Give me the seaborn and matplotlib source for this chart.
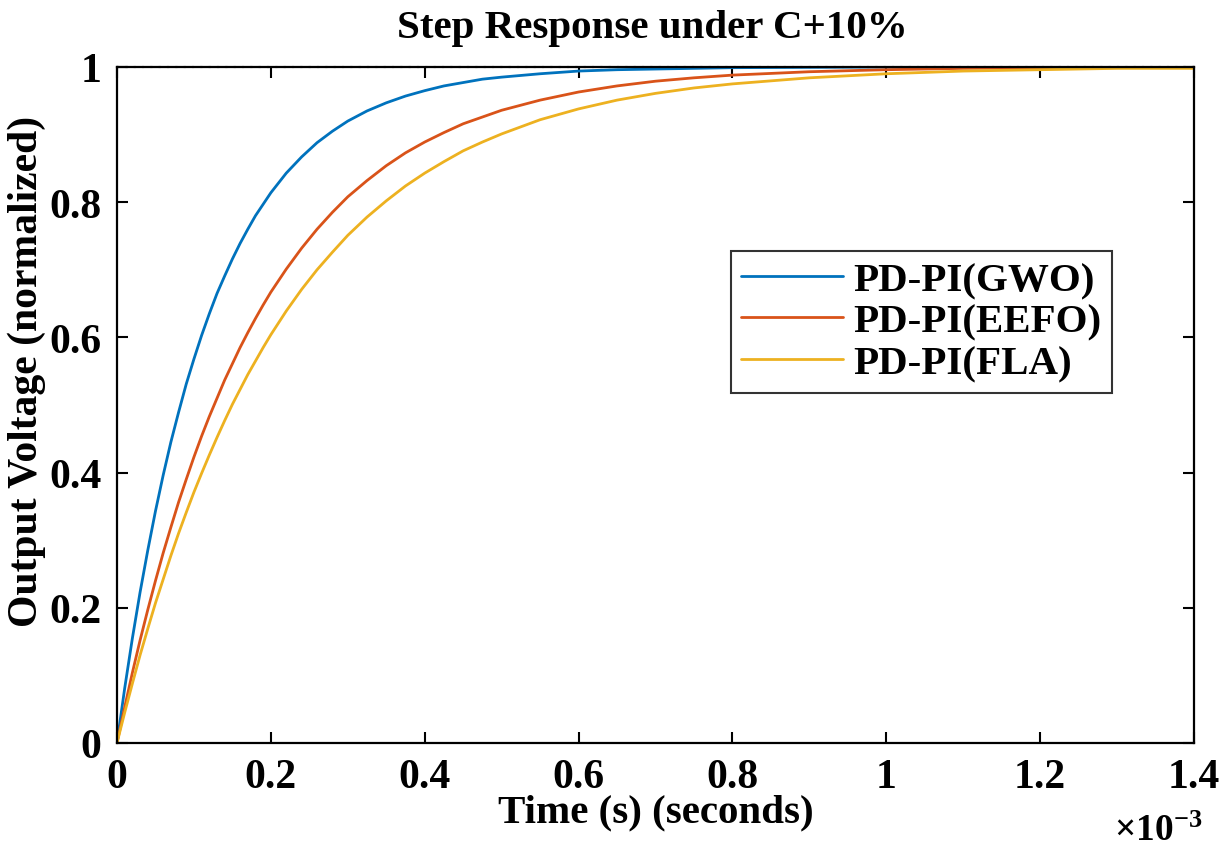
import numpy as np
import pandas as pd
import matplotlib
matplotlib.use("Agg")
import matplotlib.pyplot as plt
import seaborn as sns

# time axis (units of 1e-3 s)
time_ms = [0, 0.01, 0.02, 0.03, 0.04, 0.05, 0.06, 0.07, 0.08, 0.09, 0.10,
           0.11, 0.12, 0.13, 0.14, 0.15, 0.16, 0.17, 0.18, 0.19, 0.20,
           0.22, 0.24, 0.26, 0.28, 0.30, 0.325, 0.35, 0.375, 0.40, 0.425,
           0.45, 0.475, 0.50, 0.55, 0.60, 0.65, 0.70, 0.75, 0.80, 0.90,
           1.00, 1.10, 1.20, 1.30, 1.40]

gwo = [0, 0.081, 0.155, 0.223, 0.285, 0.343, 0.396, 0.445, 0.489, 0.531, 0.568,
       0.603, 0.635, 0.665, 0.691, 0.716, 0.739, 0.760, 0.780, 0.797, 0.814,
       0.843, 0.867, 0.888, 0.905, 0.920, 0.935, 0.947, 0.957, 0.965, 0.972,
       0.977, 0.982, 0.985, 0.990, 0.994, 0.996, 0.997, 0.998, 0.999, 0.9995,
       1.0, 1.0, 1.0, 1.0, 1.0]
eefo = [0, 0.053, 0.104, 0.152, 0.197, 0.240, 0.281, 0.319, 0.356, 0.390, 0.423,
        0.454, 0.483, 0.510, 0.537, 0.561, 0.585, 0.607, 0.628, 0.648, 0.667,
        0.701, 0.732, 0.760, 0.785, 0.808, 0.832, 0.854, 0.873, 0.889, 0.903,
        0.916, 0.926, 0.936, 0.951, 0.963, 0.972, 0.979, 0.984, 0.988, 0.993,
        0.996, 0.998, 0.999, 0.999, 1.0]
fla = [0, 0.045, 0.088, 0.130, 0.169, 0.207, 0.242, 0.277, 0.310, 0.341, 0.371,
       0.399, 0.426, 0.452, 0.477, 0.501, 0.523, 0.545, 0.565, 0.585, 0.604,
       0.639, 0.671, 0.700, 0.726, 0.751, 0.778, 0.802, 0.824, 0.843, 0.860,
       0.876, 0.889, 0.901, 0.922, 0.938, 0.951, 0.961, 0.969, 0.975, 0.984,
       0.990, 0.994, 0.996, 0.998, 0.998]

series_names = ["PD-PI(GWO)", "PD-PI(EEFO)", "PD-PI(FLA)"]
series_values = [gwo, eefo, fla]
colors = ["#0072BD", "#D95319", "#EDB120"]

x_ticks = [0, 0.2, 0.4, 0.6, 0.8, 1.0, 1.2, 1.4]
x_tick_labels = ["0", "0.2", "0.4", "0.6", "0.8", "1", "1.2", "1.4"]
y_ticks = [0, 0.2, 0.4, 0.6, 0.8, 1.0]
y_tick_labels = ["0", "0.2", "0.4", "0.6", "0.8", "1"]

frames = []
for name, vals in zip(series_names, series_values):
    frames.append(pd.DataFrame({"t": time_ms, "v": vals, "Controller": name}))
df = pd.concat(frames, ignore_index=True)

sns.set_style("ticks")
plt.rcParams["font.family"] = ["Liberation Serif", "DejaVu Serif"]
plt.rcParams["font.weight"] = "bold"
plt.rcParams["mathtext.default"] = "regular"
plt.rcParams["text.color"] = "black"
plt.rcParams["axes.labelcolor"] = "black"
plt.rcParams["xtick.color"] = "black"
plt.rcParams["ytick.color"] = "black"

fig = plt.figure(figsize=(12.3, 8.53), dpi=100)
ax = fig.add_axes([117 / 1230, 1 - 744 / 853, (1194 - 117) / 1230, (744 - 68) / 853])

sns.lineplot(data=df, x="t", y="v", hue="Controller", palette=colors,
             hue_order=series_names, linewidth=2.0, ax=ax, legend=True)

# steady-state dotted reference line
ax.axhline(1.0, color="black", linestyle=(0, (1, 3)), linewidth=1.5, clip_on=False, zorder=0)

ax.set_xlim(0, 1.4)
ax.set_ylim(0, 1)
ax.set_xticks(x_ticks)
ax.set_xticklabels(x_tick_labels)
ax.set_yticks(y_ticks)
ax.set_yticklabels(y_tick_labels)
ax.tick_params(direction="in", length=8, width=1.5, top=True, right=True,
               labelsize=30, pad=11, colors="black")
for lab in ax.get_xticklabels() + ax.get_yticklabels():
    lab.set_fontweight("bold")
for sp in ax.spines.values():
    sp.set_visible(True)
    sp.set_linewidth(1.6)
    sp.set_color("black")

ax.set_xlabel("Time (s) (seconds)", fontsize=29.5, fontweight="bold", labelpad=-2,
              color="black")
ax.set_ylabel("Output Voltage (normalized)", fontsize=30, fontweight="bold", color="black")
ax.yaxis.set_label_coords((46 - 117) / 1077, (744 - 371) / 676)

fig.text(652 / 1230, 1 - 38 / 853, "Step Response under C+10%", ha="center",
         va="baseline", fontsize=29.5, fontweight="bold", color="black")
fig.text(1202 / 1230, 1 - 849 / 853, "×10$^{-3}$", ha="right", va="bottom",
         fontsize=27, fontweight="bold", color="black")

leg = ax.legend(loc="upper right", bbox_to_anchor=((1112 - 117) / 1077, (744 - 252) / 676),
                borderaxespad=0, frameon=True, fancybox=False,
                handlelength=2.5, handletextpad=0.25, labelspacing=0.1,
                borderpad=0.25, prop={"weight": "bold", "size": 29.5})
leg.get_frame().set_edgecolor("#333333")
leg.get_frame().set_linewidth(1.5)
leg.get_frame().set_alpha(1)
for txt in leg.get_texts():
    txt.set_color("black")
for line in leg.get_lines():
    line.set_linewidth(2.0)

fig.savefig("out.png", dpi=100)
